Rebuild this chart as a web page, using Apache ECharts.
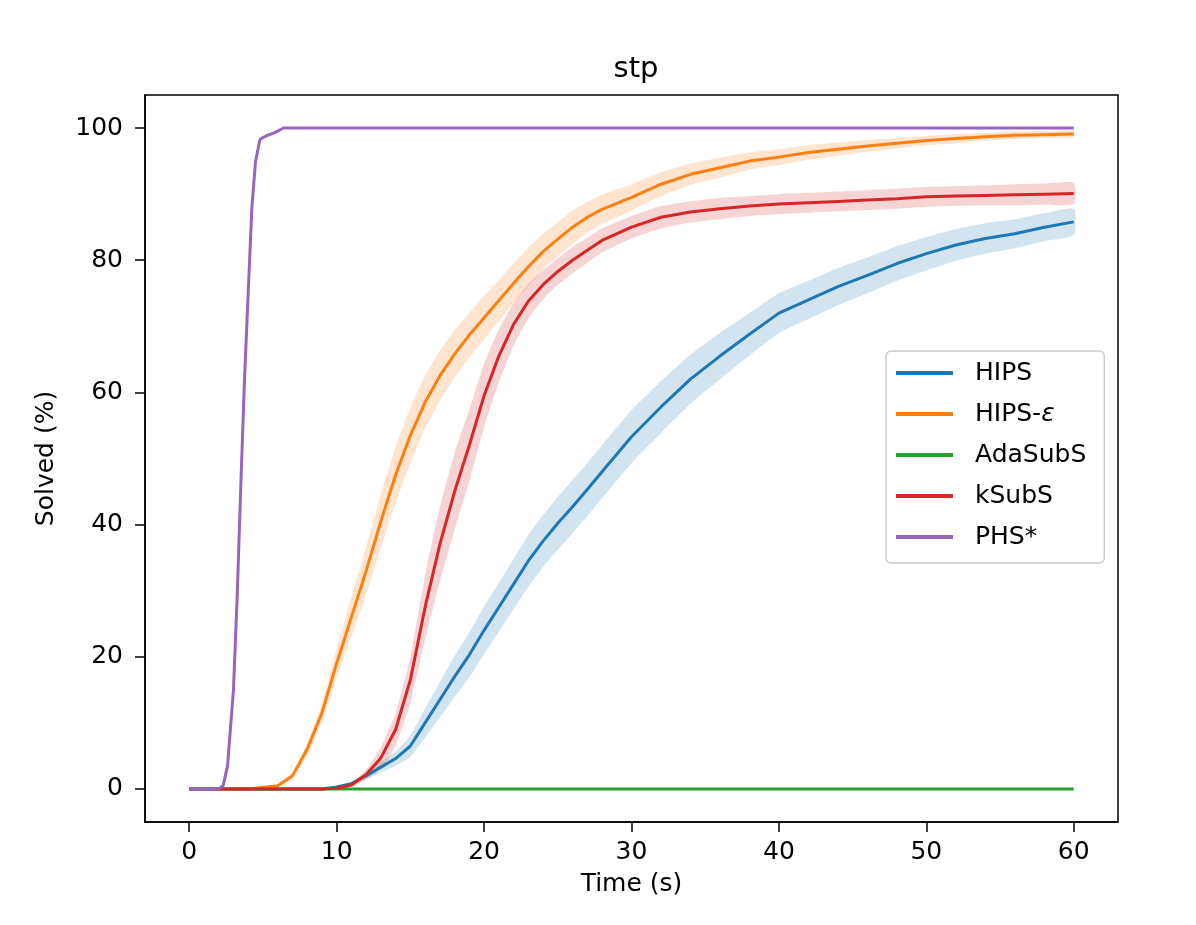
<!DOCTYPE html>
<html>
<head>
<meta charset="utf-8">
<script src="https://cdn.jsdelivr.net/npm/echarts@6/dist/echarts.min.js"></script>
<style>
  html, body { margin: 0; padding: 0; background: #fff; }
  #chart { width: 1196px; height: 925px; }
</style>
</head>
<body>
<div id="chart"></div>
<script>
// shared time grid for HIPS, HIPS-eps, AdaSubS, kSubS
var times = [0, 2, 4, 6, 7, 8, 9, 10, 11, 12, 13, 14, 15, 16, 17, 18, 19, 20, 21, 22, 23, 24, 25, 26, 27, 28,
             30, 32, 34, 36, 38, 40, 42, 44, 46, 48, 50, 52, 54, 56, 58, 60];

var hips = [0, 0, 0, 0, 0, 0, 0, 0.3, 0.8, 2.0, 3.3, 4.6, 6.5, 10, 13.5, 17, 20.3, 24, 27.5, 31, 34.5, 37.5, 40.2, 42.7, 45.3, 48,
            53.3, 57.8, 62, 65.5, 68.8, 72, 74, 76, 77.7, 79.5, 81, 82.3, 83.3, 84, 85, 85.8];
var hipsSpread = [0, 0, 0, 0, 0, 0, 0, 0.1, 0.3, 0.5, 0.8, 1.1, 1.6, 2.2, 2.7, 3.1, 3.4, 3.6, 3.7, 3.8, 3.9, 3.9, 4, 4, 4, 4,
                  4, 3.9, 3.7, 3.5, 3.2, 3, 2.9, 2.8, 2.7, 2.6, 2.5, 2.4, 2.3, 2.2, 2.1, 2];

var hipsEps = [0, 0, 0, 0.5, 2, 6, 11.5, 19, 26, 33, 40.5, 47.5, 53.5, 58.5, 62.5, 65.8, 68.7, 71.3, 73.9, 76.5, 79, 81.3, 83.2, 85, 86.5, 87.7,
               89.5, 91.5, 93, 94, 95, 95.6, 96.3, 96.8, 97.3, 97.7, 98.1, 98.4, 98.7, 98.9, 99, 99.1];
var hipsEpsSpread = [0, 0, 0, 0.1, 0.4, 0.9, 1.4, 2.2, 3, 3.6, 4, 4.2, 4.2, 4, 3.8, 3.6, 3.4, 3.3, 3.1, 3, 2.9, 2.7, 2.6, 2.5, 2.3, 2.2,
                     2, 1.8, 1.6, 1.5, 1.3, 1.2, 1.1, 1, 0.9, 0.8, 0.7, 0.7, 0.6, 0.6, 0.5, 0.5];

var adaSubS = [0, 0, 0, 0, 0, 0, 0, 0, 0, 0, 0, 0, 0, 0, 0, 0, 0, 0, 0, 0, 0, 0, 0, 0, 0, 0,
               0, 0, 0, 0, 0, 0, 0, 0, 0, 0, 0, 0, 0, 0, 0, 0];

var kSubS = [0, 0, 0, 0, 0, 0, 0, 0.1, 0.6, 2.2, 4.7, 9, 16.5, 27.5, 37, 45, 52, 59.5, 65.5, 70.3, 73.8, 76.3, 78.3, 80, 81.5, 83,
             85, 86.5, 87.3, 87.8, 88.2, 88.5, 88.7, 88.9, 89.1, 89.3, 89.6, 89.7, 89.8, 89.9, 90, 90.1];
var kSubSSpread = [0, 0, 0, 0, 0, 0, 0, 0, 0.3, 0.8, 1.6, 2.5, 3.5, 4.8, 5.6, 5.8, 5.4, 4.8, 4, 3.2, 2.6, 2.2, 2, 2, 1.9, 1.8,
                   1.7, 1.7, 1.6, 1.6, 1.5, 1.5, 1.5, 1.5, 1.5, 1.5, 1.5, 1.5, 1.5, 1.6, 1.6, 1.6];

// PHS* rises much earlier, so it has its own denser time grid
var phsTimes = [0, 1, 2, 2.3, 2.6, 3, 3.25, 3.5, 3.75, 4, 4.25, 4.5, 4.8, 5.2, 5.8, 6.4, 10, 20, 30, 40, 50, 60];
var phs = [0, 0, 0, 0.5, 3.5, 15, 29, 46, 62, 75, 88, 95, 98.3, 98.8, 99.3, 100, 100, 100, 100, 100, 100, 100];

var xTicks = [0, 10, 20, 30, 40, 50, 60];
var yTicks = [0, 20, 40, 60, 80, 100];

var colors = {
    HIPS: '#1f77b4',
    'HIPS-ε': '#ff7f0e',
    AdaSubS: '#2ca02c',
    kSubS: '#d62728',
    'PHS*': '#9467bd'
};

function pairs(xs, ys) {
    return xs.map(function (x, i) { return [x, ys[i]]; });
}

// shaded band (mean +- spread) drawn as one polygon through the axis scales
function bandSeries(name, mean, spread) {
    var rows = times.map(function (t, i) {
        return [t, Math.max(0, mean[i] - spread[i]), mean[i] + spread[i]];
    });
    return {
        name: name + ' band',
        type: 'custom',
        data: rows,
        encode: { x: 0, y: [1, 2] },
        silent: true,
        renderItem: function (params, api) {
            if (params.dataIndex !== 0) return null;
            var upper = rows.map(function (r) { return api.coord([r[0], r[2]]); });
            var lower = rows.map(function (r) { return api.coord([r[0], r[1]]); }).reverse();
            return {
                type: 'polygon',
                shape: { points: upper.concat(lower), smooth: 0.2 },
                style: { fill: colors[name], opacity: 0.2 }
            };
        }
    };
}

function lineSeries(name, xs, ys) {
    return {
        name: name,
        type: 'line',
        data: pairs(xs, ys),
        symbol: 'none',
        lineStyle: { color: colors[name], width: 3 },
        itemStyle: { color: colors[name] }
    };
}

var series = [
    lineSeries('HIPS', times, hips), bandSeries('HIPS', hips, hipsSpread),
    lineSeries('HIPS-ε', times, hipsEps), bandSeries('HIPS-ε', hipsEps, hipsEpsSpread),
    lineSeries('AdaSubS', times, adaSubS),
    lineSeries('kSubS', times, kSubS), bandSeries('kSubS', kSubS, kSubSSpread),
    lineSeries('PHS*', phsTimes, phs)
];

var chart = echarts.init(document.getElementById('chart'));
var font = 'DejaVu Sans';

chart.setOption({
    animation: false,
    textStyle: { fontFamily: font },
    title: {
        text: 'stp',
        left: 631,
        textAlign: 'center',
        top: 50,
        textStyle: { fontFamily: font, fontSize: 29, fontWeight: 'normal', color: '#000' }
    },
    grid: {
        left: 145, top: 95, right: 78, bottom: 103,
        show: true,
        borderColor: '#000',
        borderWidth: 1.5,
        backgroundColor: '#fff'
    },
    legend: {
        data: ['HIPS', 'HIPS-ε', 'AdaSubS', 'kSubS', 'PHS*'],
        orient: 'vertical',
        left: 886,
        top: 351,
        icon: 'rect',
        itemWidth: 57,
        itemHeight: 4,
        itemGap: 13,
        padding: [8, 18, 12, 10],
        borderColor: '#ccc',
        borderWidth: 1.5,
        borderRadius: 5,
        backgroundColor: 'rgba(255,255,255,0.8)',
        textStyle: {
            fontFamily: font, fontSize: 25, color: '#000', lineHeight: 28, padding: [0, 0, 0, 17],
            rich: {
                a: { fontFamily: font, fontSize: 25, color: '#000' },
                e: { fontFamily: font, fontSize: 25, color: '#000', fontStyle: 'italic' }
            }
        },
        formatter: function (name) {
            return name === 'HIPS-ε' ? '{a|HIPS-}{e|ε}' : name;
        },
        selectedMode: false
    },
    xAxis: {
        type: 'value',
        min: -3,
        max: 63,
        name: 'Time (s)',
        nameLocation: 'middle',
        nameGap: 50,
        nameTextStyle: { fontFamily: font, fontSize: 25, color: '#000' },
        axisLine: { show: true, onZero: false, lineStyle: { color: '#000', width: 1.5 } },
        axisTick: { show: true, inside: false, length: 10, lineStyle: { color: '#000', width: 1.5 }, customValues: xTicks },
        axisLabel: { fontSize: 25, color: '#000', margin: 18, customValues: xTicks },
        splitLine: { show: false }
    },
    yAxis: {
        type: 'value',
        min: -5,
        max: 105,
        name: 'Solved (%)',
        nameLocation: 'middle',
        nameGap: 86,
        nameTextStyle: { fontFamily: font, fontSize: 25, color: '#000' },
        axisLine: { show: true, onZero: false, lineStyle: { color: '#000', width: 1.5 } },
        axisTick: { show: true, inside: false, length: 10, lineStyle: { color: '#000', width: 1.5 }, customValues: yTicks },
        axisLabel: { fontSize: 25, color: '#000', margin: 22, customValues: yTicks },
        splitLine: { show: false }
    },
    series: series
});
</script>
</body>
</html>
